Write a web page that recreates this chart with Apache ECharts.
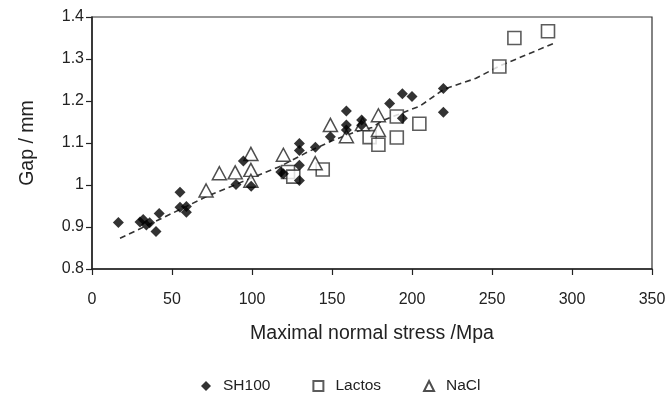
<!DOCTYPE html>
<html>
<head>
<meta charset="utf-8">
<script src="https://cdn.jsdelivr.net/npm/echarts@6/dist/echarts.min.js"></script>
<style>
  html, body { margin: 0; padding: 0; background: #fff; }
  #chart { width: 669px; height: 402px; }
</style>
</head>
<body>
<div id="chart"></div>
<script>
// 数据: [应力 MPa, 间隙 mm]
let sh100 = [
  [16.5, 0.911], [30, 0.912], [32, 0.918], [34, 0.905], [36, 0.910],
  [40, 0.889], [42, 0.932], [55, 0.983], [55, 0.947], [59, 0.949], [59, 0.935],
  [90, 1.001], [94.6, 1.057], [99.5, 0.997], [118, 1.031], [119.6, 1.027],
  [129.6, 1.099], [129.6, 1.082], [129.6, 1.047], [129.6, 1.011],
  [139.6, 1.090], [149, 1.115], [159, 1.176], [159, 1.143], [159, 1.131],
  [168.5, 1.155], [168.5, 1.142], [186, 1.194], [194, 1.217], [200, 1.211],
  [194, 1.159], [219.6, 1.230], [219.6, 1.173]
]
let lactos = [
  [122.5, 1.031], [125.8, 1.020], [144.2, 1.037], [173.5, 1.114], [179, 1.096],
  [190.5, 1.163], [190.5, 1.113], [204.6, 1.146], [254.6, 1.282], [264, 1.350],
  [285, 1.366]
]
let nacl = [
  [71.3, 0.987], [79.6, 1.028], [89.5, 1.030], [99.3, 1.074], [99.3, 1.036],
  [99.3, 1.010], [119.6, 1.072], [139.5, 1.052], [149, 1.143], [159, 1.116],
  [169, 1.145], [179, 1.166], [179, 1.131]
]
// 趋势线
let trend = [
  [17.5, 0.873], [40, 0.914], [73, 0.975], [118, 1.045], [135, 1.079],
  [151, 1.107], [165, 1.127], [175, 1.137], [182, 1.154], [205, 1.188],
  [220, 1.228], [240, 1.254], [254, 1.282], [289, 1.338]
]
let xTicks = [0, 50, 100, 150, 200, 250, 300, 350]
let yTicks = [0.8, 0.9, 1.0, 1.1, 1.2, 1.3, 1.4]

let myChart = echarts.init(document.getElementById('chart'))
let font = 'Liberation Sans, Arial, sans-serif'
let axisColor = '#222'

let options = {
  animation: false,
  grid: {
    left: 92, right: 17, top: 17, bottom: 133,
    show: true, borderColor: '#333', borderWidth: 1.2
  },
  legend: {
    left: 196,
    top: 373,
    itemWidth: 10,
    itemHeight: 10,
    itemGap: 42,
    textStyle: { fontFamily: font, fontSize: 15.5, color: '#222', padding: [0, 0, 0, 7] },
    data: ['SH100', 'Lactos', 'NaCl']
  },
  xAxis: {
    type: 'value',
    min: xTicks[0],
    max: xTicks[xTicks.length - 1],
    interval: 50,
    name: 'Maximal normal stress /Mpa',
    nameLocation: 'middle',
    nameGap: 55,
    nameTextStyle: { fontFamily: font, fontSize: 19.5, color: '#222' },
    axisLine: { lineStyle: { color: axisColor, width: 1.5 } },
    axisTick: { show: true, length: 6, lineStyle: { color: axisColor, width: 1.2 } },
    axisLabel: { fontFamily: font, fontSize: 16, color: '#222', margin: 23 },
    splitLine: { show: false }
  },
  yAxis: {
    type: 'value',
    min: yTicks[0],
    max: yTicks[yTicks.length - 1],
    interval: 0.1,
    name: 'Gap / mm',
    nameLocation: 'middle',
    nameGap: 54,
    nameTextStyle: { fontFamily: font, fontSize: 19.5, color: '#222' },
    axisLine: { show: true, lineStyle: { color: axisColor, width: 1.5 } },
    axisTick: { show: true, length: 6, lineStyle: { color: axisColor, width: 1.2 } },
    axisLabel: {
      fontFamily: font, fontSize: 16, color: '#222', margin: 8,
      formatter: v => String(Math.round(v * 10) / 10)
    },
    splitLine: { show: false }
  },
  series: [
    {
      name: 'trend',
      type: 'line',
      data: trend,
      symbol: 'none',
      z: 1,
      lineStyle: { color: '#333', width: 1.6, type: [6, 4] }
    },
    {
      name: 'Lactos',
      type: 'scatter',
      data: lactos,
      symbol: 'rect',
      symbolSize: 13,
      z: 2,
      itemStyle: { color: '#fff', borderColor: '#333', borderWidth: 1.6 }
    },
    {
      name: 'NaCl',
      type: 'scatter',
      data: nacl,
      symbol: 'triangle',
      symbolSize: [14, 13],
      z: 3,
      itemStyle: { color: '#fff', borderColor: '#222', borderWidth: 1.5 }
    },
    {
      name: 'SH100',
      type: 'scatter',
      data: sh100,
      symbol: 'diamond',
      symbolSize: 11,
      z: 4,
      itemStyle: { color: '#000' }
    }
  ]
}

myChart.setOption(options)
</script>
</body>
</html>
